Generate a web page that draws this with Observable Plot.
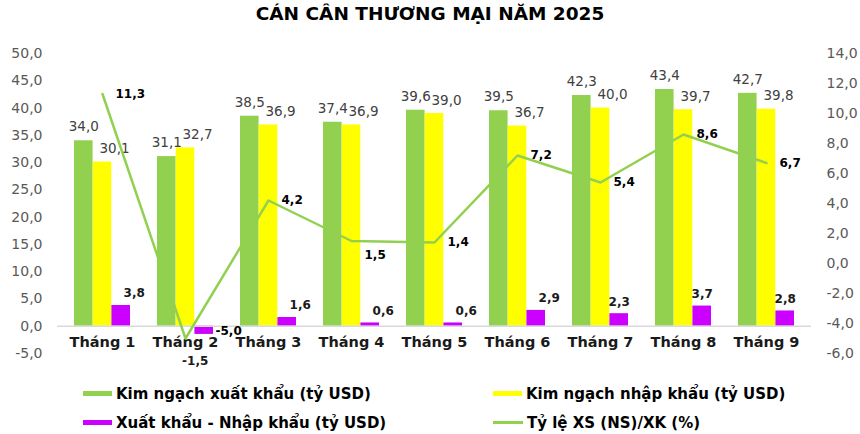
<!DOCTYPE html>
<html>
<head>
<meta charset="utf-8">
<script src="https://cdn.jsdelivr.net/npm/d3@7"></script>
<script src="https://cdn.jsdelivr.net/npm/@observablehq/plot@0.6"></script>
<style>
  body { margin: 0; background: #fff; font-family: "DejaVu Sans", sans-serif; }
  #title { height: 30px; line-height: 28px; text-align: center; font-weight: bold; font-size: 18.5px; color: #000; }
  #legend { position: relative; height: 59px; font-weight: bold; font-size: 15px; color: #000; }
  .item { position: absolute; display: flex; align-items: center; height: 29px; white-space: nowrap; }
  .sw { display: inline-block; width: 29px; height: 5px; margin-right: 4px; }
  .ln { display: inline-block; width: 30px; height: 3px; margin-right: 4px; }
</style>
</head>
<body>
<div id="title">CÁN CÂN THƯƠNG MẠI NĂM 2025</div>
<div id="chart"></div>
<div id="legend"></div>
<script>
const months = ["Tháng 1", "Tháng 2", "Tháng 3", "Tháng 4", "Tháng 5", "Tháng 6", "Tháng 7", "Tháng 8", "Tháng 9"];
const exportVals = [34.0, 31.1, 38.5, 37.4, 39.6, 39.5, 42.3, 43.4, 42.7];
const importVals = [30.1, 32.7, 36.9, 36.9, 39.0, 36.7, 40.0, 39.7, 39.8];
const balanceVals = [3.8, -1.5, 1.6, 0.6, 0.6, 2.9, 2.3, 3.7, 2.8];
const ratioVals = [11.3, -5.0, 4.2, 1.5, 1.4, 7.2, 5.4, 8.6, 6.7];
const leftTicks = [-5, 0, 5, 10, 15, 20, 25, 30, 35, 40, 45, 50];
const rightTicks = [-6, -4, -2, 0, 2, 4, 6, 8, 10, 12, 14];
const seriesNames = ["Kim ngạch xuất khẩu (tỷ USD)", "Kim ngạch nhập khẩu (tỷ USD)", "Xuất khẩu - Nhập khẩu (tỷ USD)", "Tỷ lệ XS (NS)/XK (%)"];
const colors = {exp: "#92D050", imp: "#FFFF00", bal: "#CC00FF", ratio: "#92D050"};

const rows = months.map((m, i) => ({month: m, i, exp: exportVals[i], imp: importVals[i], bal: balanceVals[i], ratio: ratioVals[i]}));

// right axis [-6,14] mapped onto left axis [-5,50]
const L0 = -5, L1 = 50, R0 = -6, R1 = 14;
const toLeft = r => L0 + (r - R0) * (L1 - L0) / (R1 - R0);
const fromLeft = v => Math.round((R0 + (v - L0) * (R1 - R0) / (L1 - L0)) * 10) / 10;
const fmt = v => v.toFixed(1).replace(".", ",");

const W = 860, H = 345, ML = 57, MR = 49, MT = 23, MB = 22;
const PI = 0.33, PO = 0.165;
const step = (W - ML - MR) / (months.length - PI + 2 * PO);
const bw = step * (1 - PI);
const third = bw / 3;

const chart = Plot.plot({
  width: W, height: H,
  marginLeft: ML, marginRight: MR, marginTop: MT, marginBottom: MB,
  style: {fontFamily: "DejaVu Sans", fontSize: "14px", color: "#595959", background: "transparent"},
  x: {domain: months, paddingInner: PI, paddingOuter: PO, axis: null},
  y: {domain: [L0, L1], label: null},
  marks: [
    Plot.axisY(leftTicks, {anchor: "left", tickSize: 0, tickPadding: 15, tickFormat: fmt, label: null}),
    Plot.axisY(rightTicks.map(toLeft), {anchor: "right", tickSize: 0, tickPadding: 15, tickFormat: v => fmt(fromLeft(v)), label: null}),
    Plot.barY(rows, {x: "month", y: "exp", fill: colors.exp, insetLeft: 0, insetRight: 2 * third}),
    Plot.barY(rows, {x: "month", y: "imp", fill: colors.imp, insetLeft: third, insetRight: third}),
    Plot.barY(rows, {x: "month", y: "bal", fill: colors.bal, insetLeft: 2 * third, insetRight: 0}),
    Plot.ruleY([0], {stroke: "#d9d9d9", strokeWidth: 1.5}),
    Plot.text(months, {x: d => d, y: 0, dy: 16.5, text: d => d, fontWeight: "bold", fontSize: 14.5, fill: "#1a1a1a"}),
    Plot.text(rows, {x: "month", y: "exp", text: d => fmt(d.exp), dx: -third, dy: -14, fontSize: 13.5, fill: "#404040"}),
    Plot.text(rows, {x: "month", y: "imp", text: d => fmt(d.imp), dx: 12, dy: -13, fontSize: 13.5, fill: "#404040"}),
    Plot.text(rows.filter(d => d.bal >= 0 && d.i < 6), {x: "month", y: "bal", text: d => fmt(d.bal), dx: third + 13, dy: -12, fontSize: 12, fontWeight: "bold", fill: "#1a1a1a"}),
    Plot.text(rows.filter(d => d.bal >= 0 && d.i >= 6), {x: "month", y: "bal", text: d => fmt(d.bal), dx: third, dy: -12, fontSize: 12, fontWeight: "bold", fill: "#1a1a1a"}),
    Plot.text(rows.filter(d => d.bal < 0), {x: "month", y: "bal", text: d => fmt(d.bal), dx: third - 9, dy: 27, fontSize: 12, fontWeight: "bold", fill: "#1a1a1a"}),
    Plot.line(rows, {x: "month", y: d => toLeft(d.ratio), stroke: colors.ratio, strokeWidth: 2.5}),
    Plot.text(rows.filter(d => d.ratio >= 0 && d.month !== "Tháng 4"), {x: "month", y: d => toLeft(d.ratio), text: d => fmt(d.ratio), textAnchor: "start", dx: 13, fontSize: 12, fontWeight: "bold", fill: "#000"}),
    Plot.text(rows.filter(d => d.month === "Tháng 4"), {x: "month", y: d => toLeft(d.ratio), text: d => fmt(d.ratio), textAnchor: "start", dx: 13, dy: 14, fontSize: 12, fontWeight: "bold", fill: "#000"}),
    Plot.text(rows.filter(d => d.ratio < 0), {x: "month", y: d => toLeft(d.ratio), text: d => fmt(d.ratio), textAnchor: "start", dx: 30, dy: -7, fontSize: 12, fontWeight: "bold", fill: "#000"})
  ]
});
document.getElementById("chart").appendChild(chart);

// legend
const legend = document.getElementById("legend");
const items = [
  {name: seriesNames[0], color: colors.exp, kind: "sw", left: 83, top: 4},
  {name: seriesNames[1], color: colors.imp, kind: "sw", left: 493, top: 4},
  {name: seriesNames[2], color: colors.bal, kind: "sw", left: 83, top: 33},
  {name: seriesNames[3], color: colors.ratio, kind: "ln", left: 493, top: 33}
];
for (const it of items) {
  const div = document.createElement("div");
  div.className = "item";
  div.style.left = it.left + "px";
  div.style.top = it.top + "px";
  const sw = document.createElement("span");
  sw.className = it.kind;
  sw.style.background = it.color;
  const tx = document.createElement("span");
  tx.textContent = it.name;
  div.appendChild(sw);
  div.appendChild(tx);
  legend.appendChild(div);
}
</script>
</body>
</html>
